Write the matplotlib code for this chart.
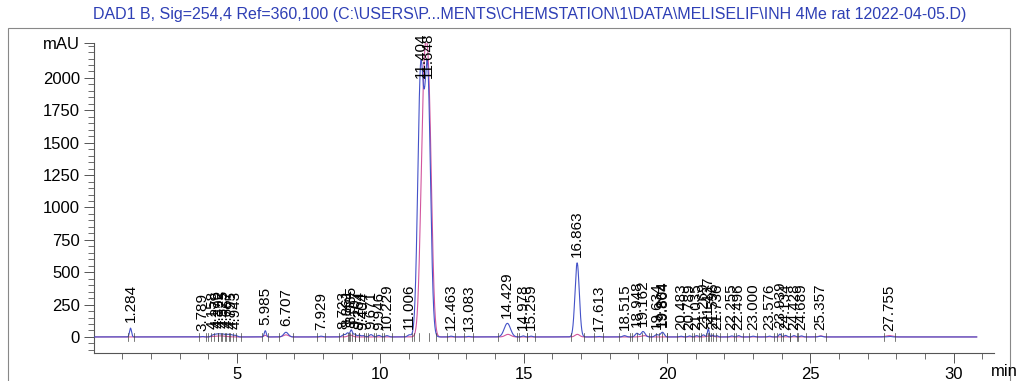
import numpy as np
import matplotlib
matplotlib.use("Agg")
import matplotlib.pyplot as plt
from matplotlib.patches import Rectangle

plt.rcParams['font.family'] = ['Liberation Sans', 'DejaVu Sans']

TITLE = ("DAD1 B, Sig=254,4 Ref=360,100 (C:\\USERS\\P...MENTS\\CHEMSTATION\\1\\DATA"
         "\\MELISELIF\\INH 4Me rat 12022-04-05.D)")

# Integrated peaks: retention time (min), apex height (mAU), peak width sigma (min)
peak_rt = [1.284, 3.789, 4.158, 4.276, 4.392, 4.525, 4.667, 4.795, 4.943,
           5.985, 6.707, 7.929, 8.723, 8.861, 8.985, 9.107, 9.264, 9.404,
           9.671, 9.946, 10.229, 11.006, 11.404, 11.648, 12.463, 13.083,
           14.429, 14.978, 15.259, 16.863, 17.613, 18.515, 18.948, 19.162,
           19.634, 19.804, 19.864, 20.483, 20.789, 21.035, 21.269, 21.437,
           21.596, 21.736, 22.255, 22.496, 23.000, 23.576, 23.939, 24.134,
           24.428, 24.689, 25.357, 27.755]
peak_height = [68, 4, 14, 18, 20, 20, 18, 16, 12,
               48, 36, 6, 18, 30, 52, 22, 14, 10,
               18, 12, 10, 16, 2015, 2015, 6, 4,
               105, 8, 6, 572, 4, 10, 28, 42,
               18, 22, 20, 6, 8, 10, 16, 62,
               14, 10, 8, 10, 6, 6, 22, 12,
               10, 8, 6, 4]
peak_sigma = [0.035, 0.04, 0.06, 0.06, 0.06, 0.06, 0.06, 0.06, 0.06,
              0.035, 0.08, 0.05, 0.06, 0.05, 0.04, 0.05, 0.05, 0.05,
              0.06, 0.06, 0.06, 0.06, 0.10, 0.10, 0.05, 0.05,
              0.11, 0.05, 0.05, 0.075, 0.05, 0.06, 0.06, 0.07,
              0.06, 0.06, 0.05, 0.05, 0.05, 0.05, 0.05, 0.03,
              0.04, 0.04, 0.05, 0.05, 0.05, 0.05, 0.04, 0.05,
              0.05, 0.05, 0.06, 0.06]

# Reference wavelength trace (second signal)
ref_rt = [4.4, 5.985, 6.707, 8.95, 11.52, 11.70, 14.45, 16.87, 19.2, 21.5, 25.357, 27.755]
ref_height = [8, 12, 16, 14, 1800, 1500, 20, 20, 10, 8, 8, 10]
ref_sigma = [0.2, 0.05, 0.09, 0.08, 0.11, 0.10, 0.1, 0.08, 0.1, 0.1, 0.08, 0.12]

X_MAX = 31.4
Y_MIN, Y_MAX = -124, 2270

BLUE = '#4452c8'
PINK = '#d2559e'


def trace(t, rts, heights, sigmas):
    y = np.zeros_like(t)
    for rt, h, s in zip(rts, heights, sigmas):
        y += h * np.exp(-0.5 * ((t - rt) / s) ** 2)
    return y


t = np.linspace(0, 30.8, 8000)
sig = trace(t, peak_rt, peak_height, peak_sigma)
ref = trace(t, ref_rt, ref_height, ref_sigma)

fig = plt.figure(figsize=(10.17, 3.81), dpi=100)
ax = fig.add_axes([93.7 / 1017, 28 / 381, 900.2 / 1017, 310 / 381])

ax.plot(t, ref, color=PINK, lw=0.8, zorder=2)
ax.plot(t, sig, color=BLUE, lw=0.8, zorder=3)

# integration markers at peak boundaries
for rt, s in zip(peak_rt, peak_sigma):
    for edge in (rt - 3 * s, rt + 3 * s):
        ax.plot([edge, edge], [-35, 30], color='#444444', lw=0.5, zorder=4)

# retention time labels
for rt, h in zip(peak_rt, peak_height):
    apex = trace(np.array([rt]), peak_rt, peak_height, peak_sigma)[0]
    ypos = min(apex + 45, 2000)
    ax.text(rt, ypos, f"{rt:.3f}", rotation=90, ha='center', va='bottom',
            fontsize=11, color='black', zorder=5, clip_on=False)

ax.set_xlim(0, X_MAX)
ax.set_ylim(Y_MIN, Y_MAX)

for side in ('top', 'right'):
    ax.spines[side].set_visible(False)
for side in ('left', 'bottom'):
    ax.spines[side].set_color('#555555')
    ax.spines[side].set_linewidth(0.8)

ax.set_xticks([5, 10, 15, 20, 25, 30])
ax.set_xticks(np.arange(1, 32, 1), minor=True)
yt = [0, 250, 500, 750, 1000, 1250, 1500, 1750, 2000, Y_MAX]
ax.set_yticks(yt)
ax.set_yticklabels([str(v) for v in yt[:-1]] + ['mAU'])
ax.set_yticks(np.arange(-100, 2270, 50), minor=True)
ax.tick_params(axis='both', which='major', length=7, width=0.7, color='#555555',
               labelsize=12, direction='out', pad=3)
ax.tick_params(axis='both', which='minor', length=4, width=0.6, color='#555555',
               direction='out')

fig.text(991 / 1017, 1 - 371 / 381, 'min', ha='left', va='center', fontsize=12)

fig.text(530 / 1017, 1 - 15 / 381, TITLE, ha='center', va='center',
         fontsize=11.5, color='#2e3fb5')

fig.patches.append(Rectangle((8 / 1017, -0.1), 1002 / 1017, 0.1 + (381 - 28) / 381,
                             transform=fig.transFigure, fill=False,
                             edgecolor='#888888', lw=0.8))

fig.savefig('out.png', dpi=100, facecolor='white')
